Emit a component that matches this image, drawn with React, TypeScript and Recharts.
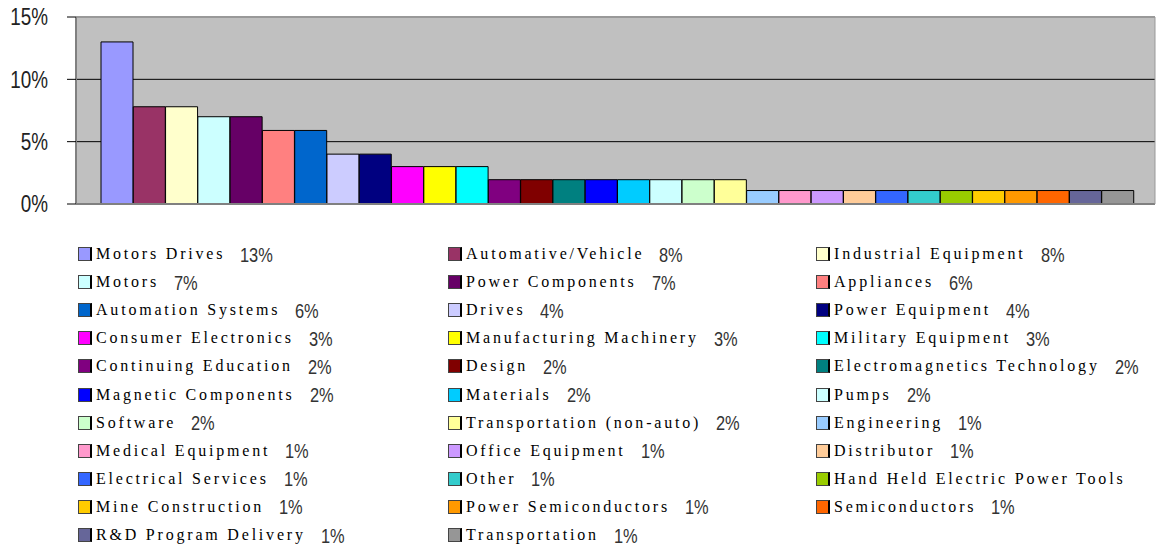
import { BarChart, Bar, Cell, XAxis, YAxis, CartesianGrid, ReferenceLine } from "recharts";

const categories = [
  "Motors Drives", "Automative/Vehicle", "Industrial Equipment",
  "Motors", "Power Components", "Appliances",
  "Automation Systems", "Drives", "Power Equipment",
  "Consumer Electronics", "Manufacturing Machinery", "Military Equipment",
  "Continuing Education", "Design", "Electromagnetics Technology",
  "Magnetic Components", "Materials", "Pumps",
  "Software", "Transportation (non-auto)", "Engineering",
  "Medical Equipment", "Office Equipment", "Distributor",
  "Electrical Services", "Other", "Hand Held Electric Power Tools",
  "Mine Construction", "Power Semiconductors", "Semiconductors",
  "R&D Program Delivery", "Transportation",
];

const shares = [
  13, 7.8, 7.8, 7, 7, 5.9, 5.9, 4, 4, 3, 3, 3,
  1.95, 1.95, 1.95, 1.95, 1.95, 1.95, 1.95, 1.95,
  1.08, 1.08, 1.08, 1.08, 1.08, 1.08, 1.08, 1.08, 1.08, 1.08, 1.08, 1.08,
];

const legendPct = [
  "13%", "8%", "8%", "7%", "7%", "6%", "6%", "4%", "4%", "3%", "3%", "3%",
  "2%", "2%", "2%", "2%", "2%", "2%", "2%", "2%",
  "1%", "1%", "1%", "1%", "1%", "1%", "", "1%", "1%", "1%", "1%", "1%",
];

const colors = [
  "#9999FF", "#993366", "#FFFFCC", "#CCFFFF", "#660066", "#FF8080",
  "#0066CC", "#CCCCFF", "#000080", "#FF00FF", "#FFFF00", "#00FFFF",
  "#800080", "#800000", "#008080", "#0000FF", "#00CCFF", "#CCFFFF",
  "#CCFFCC", "#FFFF99", "#99CCFF", "#FF99CC", "#CC99FF", "#FFCC99",
  "#3366FF", "#33CCCC", "#99CC00", "#FFCC00", "#FF9900", "#FF6600",
  "#666699", "#969696",
];

const yTicks = [0, 5, 10, 15];
const gridValues = [5, 10];

const data = categories.map((name, i) => ({ name, share: shares[i] }));

const colX = [78, 448, 816];

// Arial Narrow look-alike: Liberation Sans squeezed horizontally
function NarrowTick(props: any) {
  const { x, y, payload } = props;
  return (
    <text
      x={0}
      y={0}
      transform={`translate(${x},${y}) scale(0.82,1)`}
      textAnchor="end"
      dominantBaseline="central"
      fontFamily="'Liberation Sans', Arial, sans-serif"
      fontSize={23}
      fill="#222"
    >
      {`${payload.value}%`}
    </text>
  );
}

function ShareLegend() {
  return (
    <div style={{ position: "absolute", left: 0, top: 244, width: 1156, height: 304 }}>
      {categories.map((name, i) => {
        const row = Math.floor(i / 3);
        const col = i % 3;
        return (
          <div
            key={name}
            style={{
              position: "absolute",
              left: colX[col],
              top: row * 28.1,
              height: 20,
              display: "flex",
              alignItems: "center",
              whiteSpace: "nowrap",
            }}
          >
            <span
              style={{
                display: "inline-block",
                width: 11,
                height: 12,
                background: colors[i],
                border: "1px solid #444",
                borderRight: "2px solid #000",
                marginRight: 4,
              }}
            />
            <span style={{ fontFamily: "'Liberation Serif', serif", fontSize: 16, letterSpacing: 2.8, color: "#000" }}>
              {name}
            </span>
            <span
              style={{
                display: "inline-block",
                fontFamily: "'Liberation Sans', Arial, sans-serif",
                fontSize: 20,
                color: "#333",
                marginLeft: 15,
                transform: "scaleX(0.82)",
                transformOrigin: "left center",
                position: "relative",
                top: 1,
              }}
            >
              {legendPct[i]}
            </span>
          </div>
        );
      })}
    </div>
  );
}

export default function App() {
  return (
    <div style={{ position: "absolute", left: 0, top: 0, width: 1156, height: 548, background: "#fff" }}>
      <BarChart
        width={1156}
        height={548}
        data={data}
        margin={{ top: 17, right: 0, left: 0, bottom: 343 }}
        barCategoryGap={0}
      >
        <CartesianGrid
          vertical={false}
          horizontalValues={gridValues}
          stroke="#000"
          fill="#c0c0c0"
          fillOpacity={1}
        />
        <XAxis
          dataKey="name"
          height={1}
          tick={false}
          tickLine={false}
          axisLine={{ stroke: "#808080", strokeWidth: 2 }}
          padding={{ left: 25, right: 21 }}
        />
        <YAxis
          width={76}
          domain={[0, 15]}
          ticks={yTicks}
          tickSize={9}
          tickMargin={19}
          tickLine={{ stroke: "#000" }}
          axisLine={{ stroke: "#808080", strokeWidth: 2 }}
          tick={<NarrowTick />}
        />
        <YAxis
          yAxisId="r"
          orientation="right"
          width={1}
          domain={[0, 15]}
          tick={false}
          tickLine={false}
          axisLine={{ stroke: "#999", strokeWidth: 1 }}
        />
        <ReferenceLine y={15} stroke="#999" strokeWidth={2} />
        <Bar dataKey="share" stroke="#000" strokeWidth={1} isAnimationActive={false}>
          {data.map((d, i) => (
            <Cell key={d.name} fill={colors[i]} />
          ))}
        </Bar>
      </BarChart>
      <ShareLegend />
    </div>
  );
}
